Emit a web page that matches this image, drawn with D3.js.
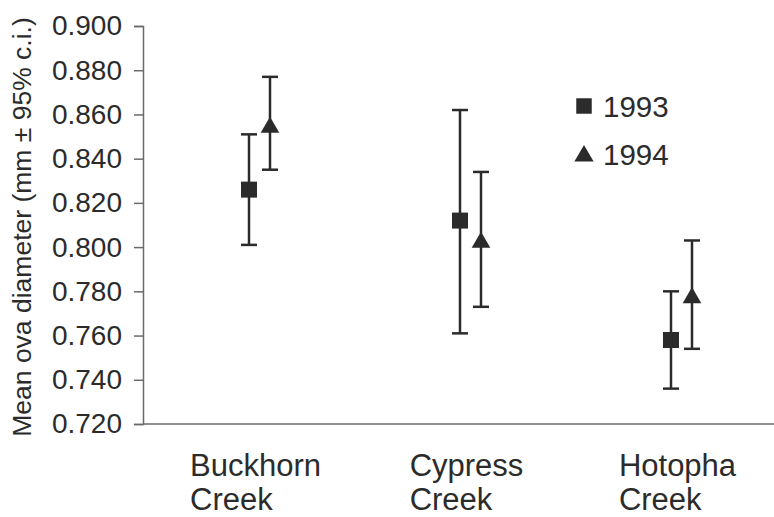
<!DOCTYPE html>
<html>
<head>
<meta charset="utf-8">
<script src="https://cdn.jsdelivr.net/npm/d3@7"></script>
<style>
  html, body { margin: 0; padding: 0; background: #fff; }
  svg { display: block; font-family: "Liberation Sans", Arial, sans-serif; }
</style>
</head>
<body>
<svg id="chart" width="774" height="517"></svg>
<script>
const categories = [["Buckhorn", "Creek"], ["Cypress", "Creek"], ["Hotopha", "Creek"]];
const categoryKeys = ["Buckhorn Creek", "Cypress Creek", "Hotopha Creek"];
const years = ["1993", "1994"];
const mean1993 = [0.826, 0.812, 0.758];
const lower1993 = [0.801, 0.761, 0.736];
const upper1993 = [0.851, 0.862, 0.780];
const mean1994 = [0.855, 0.803, 0.778];
const lower1994 = [0.835, 0.773, 0.754];
const upper1994 = [0.877, 0.834, 0.803];
const yTicks = [0.72, 0.74, 0.76, 0.78, 0.80, 0.82, 0.84, 0.86, 0.88, 0.90];
const yTitle = "Mean ova diameter (mm \u00B1 95% c.i.)";

const svg = d3.select("#chart");
const ink = "#2b2b2b";
const axisColor = "#6a6a6a";

const y = d3.scaleLinear().domain([0.72, 0.90]).range([424, 26]);
const x = d3.scaleBand().domain(categoryKeys).range([154, 787]);
const xs = d3.scaleBand().domain(years).range([-21, 21]);

// Y axis
const yAxis = d3.axisLeft(y).tickValues(yTicks).tickFormat(d3.format(".3f")).tickSizeOuter(0).tickSize(9).tickPadding(12);
const gy = svg.append("g").attr("transform", "translate(143,0)").call(yAxis);
gy.select(".domain").attr("stroke", axisColor).attr("stroke-width", 1.5);
gy.selectAll(".tick line").attr("stroke", axisColor).attr("stroke-width", 1.5);
gy.selectAll(".tick text").attr("fill", "#2b2b2b").attr("font-size", 28)
  .attr("font-family", "'Liberation Sans', Arial, sans-serif");

// X axis baseline
svg.append("line").attr("x1", 143).attr("x2", 774).attr("y1", y(0.72)).attr("y2", y(0.72))
  .attr("stroke", axisColor).attr("stroke-width", 1.5);

// Y title
svg.append("text")
  .attr("transform", `translate(31,${(y(0.72) + y(0.90)) / 2 + 2}) rotate(-90)`)
  .attr("text-anchor", "middle")
  .attr("font-size", 26.5)
  .attr("fill", "#2b2b2b")
  .text(yTitle);

// Category labels (left-aligned block)
categories.forEach((lines, i) => {
  const t = svg.append("text").attr("font-size", 31).attr("fill", "#2b2b2b");
  lines.forEach((ln, j) => {
    t.append("tspan").attr("dy", j === 0 ? 0 : 34).text(ln);
  });
  const w = t.select("tspan").node().getComputedTextLength();
  const left = x(categoryKeys[i]) + x.bandwidth() / 2 - w / 2 - 4;
  t.attr("x", left).attr("y", 476);
  t.selectAll("tspan").attr("x", left);
});

// Data series
const series = [
  { year: "1993", mean: mean1993, lo: lower1993, hi: upper1993, shape: d3.symbolSquare, size: 256 },
  { year: "1994", mean: mean1994, lo: lower1994, hi: upper1994, shape: d3.symbolTriangle, size: 150 }
];

series.forEach(s => {
  const g = svg.append("g");
  categoryKeys.forEach((c, i) => {
    const cx = x(c) + x.bandwidth() / 2 + xs(s.year) + xs.bandwidth() / 2;
    g.append("line").attr("x1", cx).attr("x2", cx).attr("y1", y(s.lo[i])).attr("y2", y(s.hi[i]))
      .attr("stroke", ink).attr("stroke-width", 2.5);
    [s.lo[i], s.hi[i]].forEach(v => {
      g.append("line").attr("x1", cx - 8).attr("x2", cx + 8).attr("y1", y(v)).attr("y2", y(v))
        .attr("stroke", ink).attr("stroke-width", 2.5);
    });
    g.append("path").attr("d", d3.symbol().type(s.shape).size(s.size)())
      .attr("transform", `translate(${cx},${y(s.mean[i]) + (s.shape === d3.symbolTriangle ? 2 : 0)})`)
      .attr("fill", ink);
  });
});

// Legend
const legendY = [106, 154];
series.forEach((s, i) => {
  svg.append("path").attr("d", d3.symbol().type(s.shape).size(s.shape === d3.symbolSquare ? 240 : 160)())
    .attr("transform", `translate(584,${legendY[i] + (s.shape === d3.symbolTriangle ? 2 : 0)})`)
    .attr("fill", ink);
  svg.append("text").attr("x", 603).attr("y", legendY[i] + 10.5)
    .attr("font-size", 29.5).attr("fill", "#2b2b2b").text(s.year);
});
</script>
</body>
</html>
